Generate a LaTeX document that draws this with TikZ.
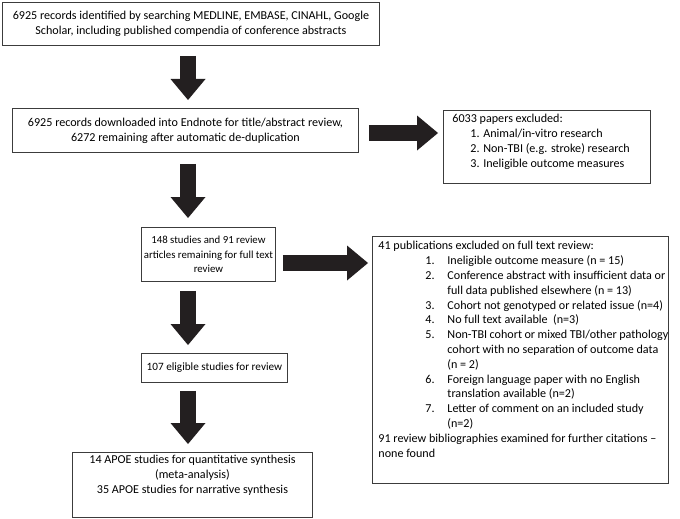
\documentclass[tikz,border=0pt]{standalone}
\usepackage{fontspec}
\setmainfont{Carlito}
\usetikzlibrary{arrows.meta}

\definecolor{noir}{RGB}{35,31,32}
\definecolor{trait}{RGB}{60,60,60}

% retraits des listes
\newcommand{\numero}[1]{\hspace*{53pt}\makebox[22pt][l]{#1}}
\newcommand{\suite}{\hspace*{75pt}}

\tikzset{
  boite/.style={draw=trait, line width=0.9pt, inner sep=0pt, anchor=north west,
    font=\fontsize{12.1}{14.8}\selectfont},
  petite/.style={font=\fontsize{10.8}{14.8}\selectfont},
  fleche/.style={draw=noir, line width=16pt,
    -{Triangle[length=21pt,width=35pt,line width=0pt]}},
}

\begin{document}
\begin{tikzpicture}[x=1pt,y=-1pt]
\useasboundingbox (0,0) rectangle (680,519);

% La colonne des grosses flèches
\coordinate (axe) at (188,0);
\coordinate (niveau1) at (0,133);
\coordinate (niveau2) at (0,263);

% Les boîtes de gauche
\node[boite] (recherche) at (2,2) {\parbox[c][43pt][c]{377pt}{\centering
  6925 records identified by searching MEDLINE, EMBASE, CINAHL, Google\\
  Scholar, including published compendia of conference abstracts}};
\node[boite] (endnote) at (12,108) {\parbox[c][44pt][c]{346pt}{\centering
  6925 records downloaded into Endnote for title/abstract review,\\
  6272 remaining after automatic de-duplication}};
\node[boite, petite] (texte) at (141,227) {\parbox[c][54pt][c]{134pt}{\centering
  148 studies and 91 review\\
  articles remaining for full text\\
  review}};
\node[boite, petite] (eligibles) at (141,353) {\parbox[c][29pt][c]{146pt}{\centering
  \fontsize{11.2}{14.8}\selectfont 107 eligible studies for review}};
\node[boite] (synthese) at (72,452) {\parbox[c][65pt][t]{240pt}{\centering\vspace*{3pt}
  14 APOE studies for quantitative synthesis\\
  (meta-analysis)\\
  35 APOE studies for narrative synthesis}};

% Les exclusions à droite
\node[boite] (exclus) at (443,110) {\parbox[c][73pt][t]{207pt}{\vspace*{4pt}
  \hspace*{9pt}6033 papers excluded:\\
  \hspace*{27pt}1. Animal/in-vitro research\\
  \hspace*{27pt}2. Non-TBI (e.g. stroke) research\\
  \hspace*{27pt}3. Ineligible outcome measures}};
\node[boite] (publis) at (372,236) {\parbox[c][247pt][t]{296pt}{\vspace*{5pt}
  \hspace*{6pt}41 publications excluded on full text review:\\
  \numero{1.}Ineligible outcome measure (n = 15)\\
  \numero{2.}Conference abstract with insufficient data or\\
  \suite full data published elsewhere (n = 13)\\
  \numero{3.}Cohort not genotyped or related issue (n=4)\\
  \numero{4.}No full text available~ (n=3)\\
  \numero{5.}Non-TBI cohort or mixed TBI/other pathology\\
  \suite cohort with no separation of outcome data\\
  \suite (n = 2)\\
  \numero{6.}Foreign language paper with no English\\
  \suite translation available (n=2)\\
  \numero{7.}Letter of comment on an included study\\
  \suite (n=2)\\
  \hspace*{6pt}91 review bibliographies examined for further citations –\\
  \hspace*{6pt}none found}};

% Les flèches vers le bas
\draw[fleche, shorten <=10pt, shorten >=8pt] (recherche.south -| axe) -- (endnote.north -| axe);
\draw[fleche, shorten <=11pt, shorten >=9pt] (endnote.south -| axe) -- (texte.north -| axe);
\draw[fleche, shorten <=9pt, shorten >=8pt] (texte.south -| axe) -- (eligibles.north -| axe);
\draw[fleche, shorten <=8pt, shorten >=8pt] (eligibles.south -| axe) -- (synthese.north -| axe);

% Les flèches vers la droite
\draw[fleche, shorten <=10pt, shorten >=5pt] (endnote.east |- niveau1) -- (exclus.west |- niveau1);
\draw[fleche, shorten <=7pt, shorten >=4pt] (texte.east |- niveau2) -- (publis.west |- niveau2);
\end{tikzpicture}
\end{document}
